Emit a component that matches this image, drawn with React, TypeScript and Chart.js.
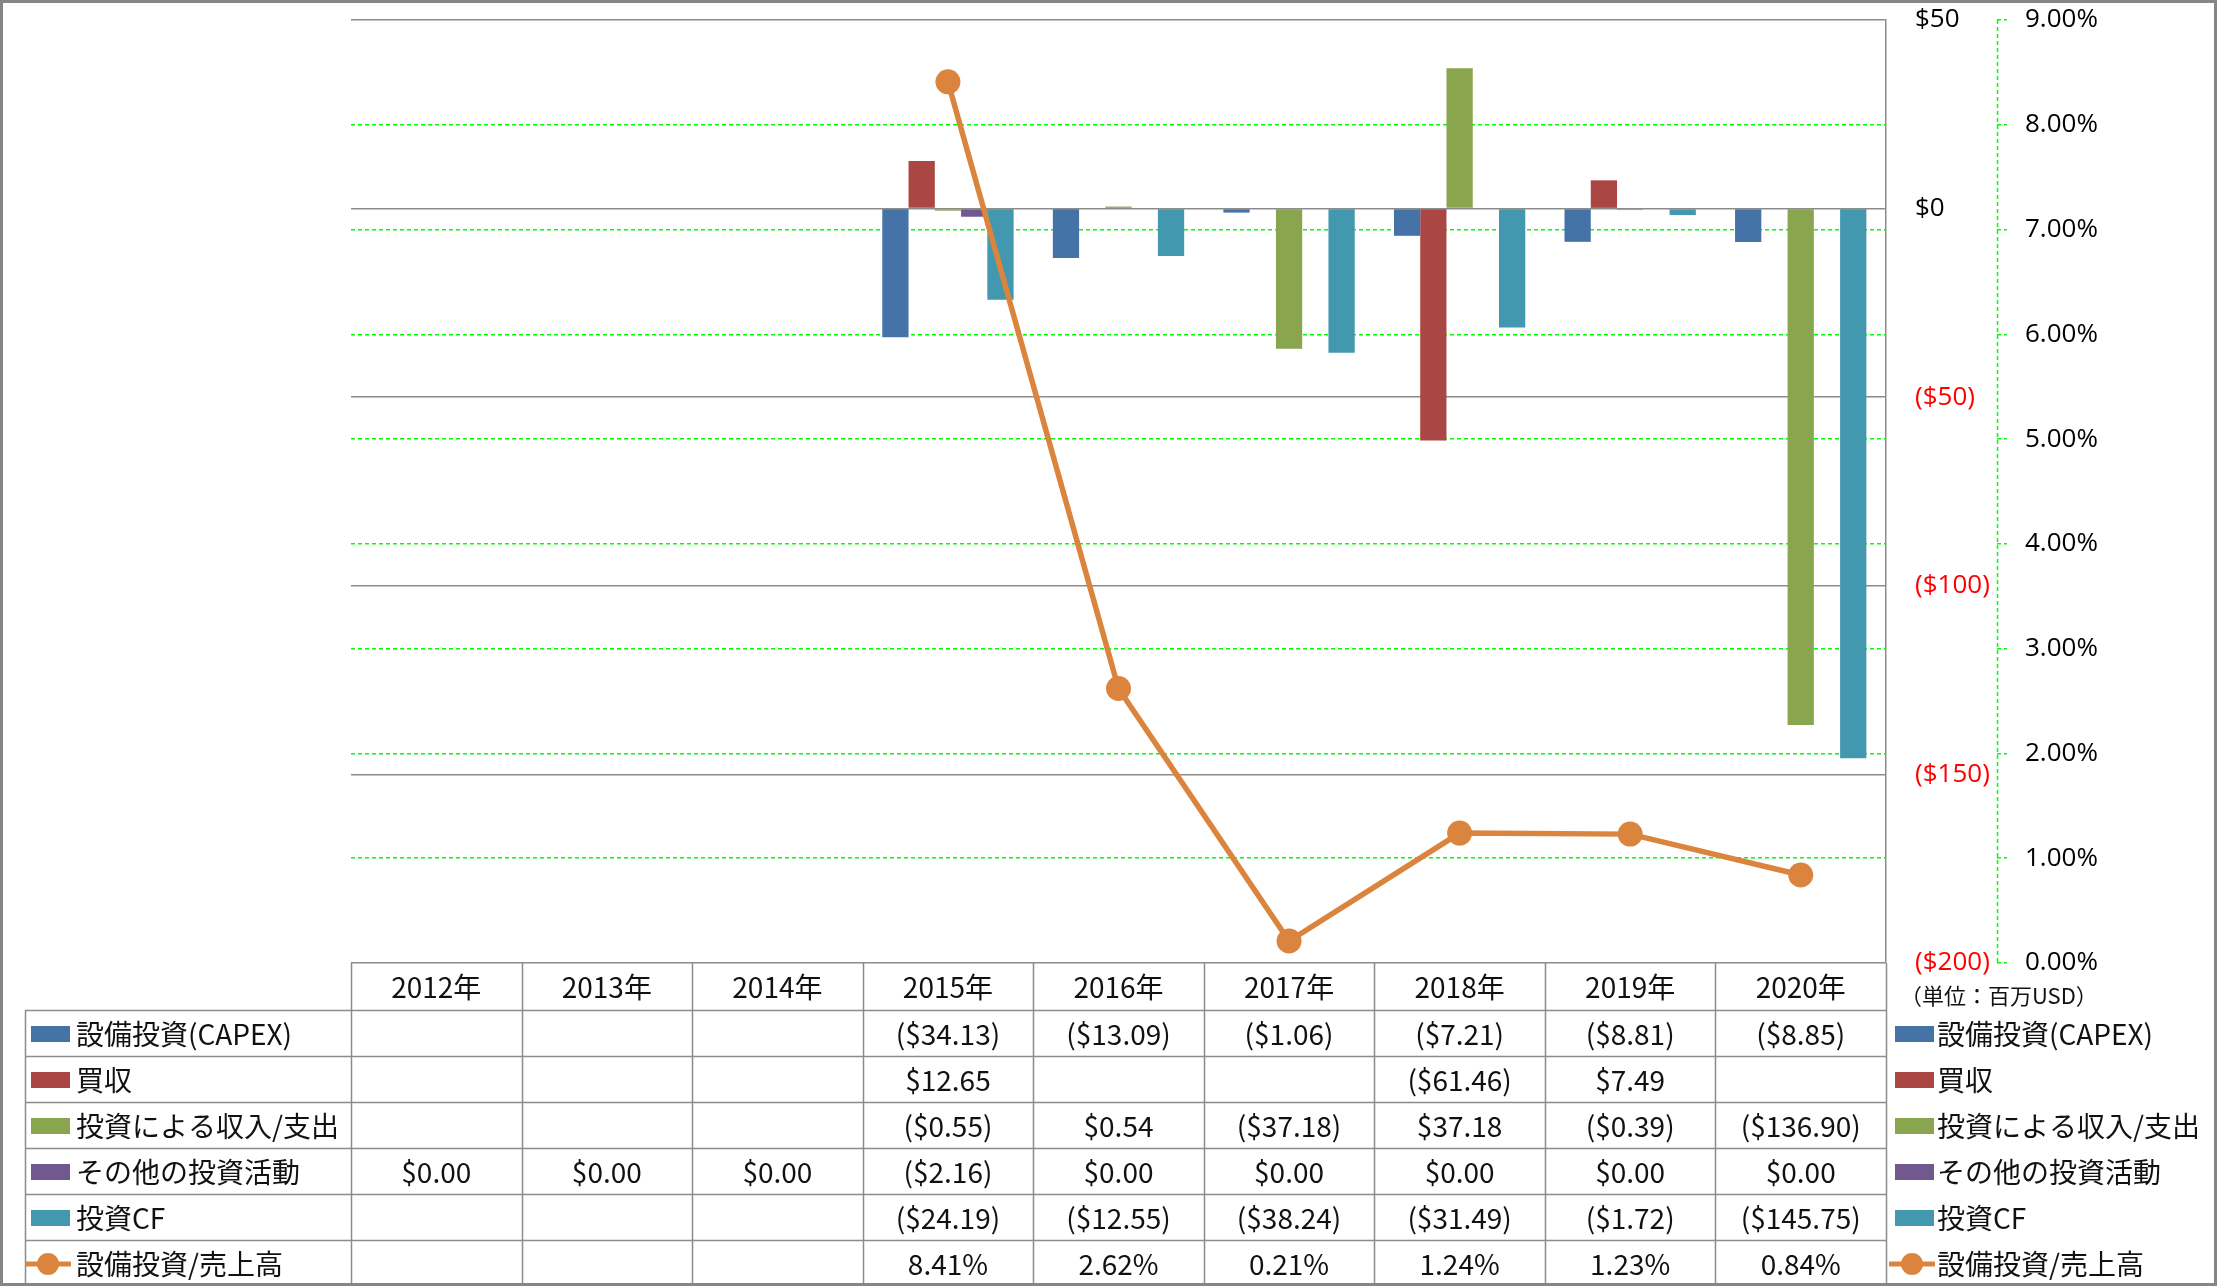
import React, { useEffect, useRef } from 'react';
import { Chart, registerables } from 'chart.js';

Chart.register(...registerables);

const years = ['2012年', '2013年', '2014年', '2015年', '2016年', '2017年', '2018年', '2019年', '2020年'];
const capex = [null, null, null, -34.13, -13.09, -1.06, -7.21, -8.81, -8.85];
const acquisitions = [null, null, null, 12.65, null, null, -61.46, 7.49, null];
const investIncome = [null, null, null, -0.55, 0.54, -37.18, 37.18, -0.39, -136.9];
const otherInvest = [0, 0, 0, -2.16, 0, 0, 0, 0, 0];
const investCF = [null, null, null, -24.19, -12.55, -38.24, -31.49, -1.72, -145.75];
const capexRatio = [null, null, null, 8.41, 2.62, 0.21, 1.24, 1.23, 0.84];

const seriesNames = ['設備投資(CAPEX)', '買収', '投資による収入/支出', 'その他の投資活動', '投資CF', '設備投資/売上高'];
const seriesColors = ['#4572A7', '#AA4643', '#89A54E', '#71588F', '#4198AF', '#DB843D'];

const dollarMin = -200;
const dollarMax = 50;
const dollarStep = 50;
const pctMin = 0;
const pctMax = 9;
const pctStep = 1;
const unitNote = '（単位：百万USD）';

const TABLE_FONT = "28px 'Noto Sans CJK JP', sans-serif";
const AXIS_FONT_FAMILY = "'Open Sans', 'Noto Sans', sans-serif";

const fmtDollar = (v: number | null) => {
  if (v === null || v === undefined) return '';
  if (v < 0) return `($${Math.abs(v).toFixed(2)})`;
  return `$${v.toFixed(2)}`;
};
const fmtPct = (v: number | null) => (v === null || v === undefined ? '' : `${v.toFixed(2)}%`);

function drawKey(ctx: CanvasRenderingContext2D, x: number, yc: number, idx: number, isLine: boolean) {
  ctx.save();
  ctx.fillStyle = seriesColors[idx];
  ctx.strokeStyle = seriesColors[idx];
  if (isLine) {
    ctx.lineWidth = 5;
    ctx.beginPath();
    ctx.moveTo(x - 6, yc);
    ctx.lineTo(x + 40, yc);
    ctx.stroke();
    ctx.beginPath();
    ctx.arc(x + 17, yc, 11, 0, Math.PI * 2);
    ctx.fill();
  } else {
    ctx.fillRect(x, yc - 8, 39, 16);
  }
  ctx.restore();
}

const tablePlugin = {
  id: 'dataTable',
  afterDraw(chart: any) {
    const ctx: CanvasRenderingContext2D = chart.ctx;
    const a = chart.chartArea;
    const xs = chart.scales.x;
    const y1 = chart.scales.y1;
    const n = years.length;
    const colW = (a.right - a.left) / n;
    const headerTop = a.bottom;
    const headerH = 47;
    const rowH = 46;
    const headerBottom = headerTop + headerH;
    const tableLeft = 25;
    const rows = seriesNames.length;
    const tableBottom = headerBottom + rowH * rows;

    ctx.save();
    // dashed secondary axis line
    ctx.strokeStyle = '#00ff00';
    ctx.lineWidth = 1.5;
    ctx.setLineDash([4, 3]);
    ctx.beginPath();
    ctx.moveTo(y1.left + 0.5, a.top);
    ctx.lineTo(y1.left + 0.5, a.bottom);
    ctx.stroke();
    ctx.setLineDash([]);

    // table grid
    ctx.strokeStyle = '#8c8c8c';
    ctx.lineWidth = 1.5;
    ctx.beginPath();
    for (let i = 0; i <= n; i++) {
      const x = Math.round(a.left + i * colW) + 0.5;
      ctx.moveTo(x, headerTop);
      ctx.lineTo(x, tableBottom);
    }
    for (let r = 0; r <= rows; r++) {
      const y = Math.round(headerBottom + r * rowH) + 0.5;
      ctx.moveTo(tableLeft, y);
      ctx.lineTo(a.right, y);
    }
    ctx.moveTo(tableLeft + 0.5, headerBottom);
    ctx.lineTo(tableLeft + 0.5, tableBottom);
    ctx.stroke();

    ctx.fillStyle = '#111';
    ctx.font = TABLE_FONT;
    ctx.textBaseline = 'middle';
    ctx.textAlign = 'center';
    years.forEach((yr, i) => {
      ctx.fillText(yr, xs.getPixelForValue(i), headerTop + headerH / 2 + 1);
    });

    const seriesData = [capex, acquisitions, investIncome, otherInvest, investCF, capexRatio];
    seriesData.forEach((data, r) => {
      const yc = headerBottom + rowH * (r + 0.5) + 1;
      const isLine = r === seriesData.length - 1;
      drawKey(ctx, tableLeft + 6, yc, r, isLine);
      ctx.fillStyle = '#111';
      ctx.textAlign = 'left';
      ctx.fillText(seriesNames[r], tableLeft + 51, yc);
      ctx.textAlign = 'center';
      data.forEach((v, i) => {
        const txt = isLine ? fmtPct(v) : fmtDollar(v);
        if (txt) ctx.fillText(txt, xs.getPixelForValue(i), yc);
      });
      // right legend
      drawKey(ctx, a.right + 9, yc, r, isLine);
      ctx.fillStyle = '#111';
      ctx.textAlign = 'left';
      ctx.fillText(seriesNames[r], a.right + 51, yc);
    });

    ctx.font = "22px 'Noto Sans CJK JP', sans-serif";
    ctx.textAlign = 'left';
    ctx.fillText(unitNote, a.right + 14, headerTop + 33);

    // outer frame
    ctx.strokeStyle = '#868686';
    ctx.lineWidth = 3;
    ctx.strokeRect(1.5, 1.5, chart.width - 3, chart.height - 3);
    ctx.restore();
  },
};

export default function App() {
  const canvasRef = useRef<HTMLCanvasElement | null>(null);

  useEffect(() => {
    document.body.style.margin = '0';
    document.body.style.overflow = 'hidden';
    const canvas = canvasRef.current;
    if (!canvas) return;
    const barDs = (idx: number, data: (number | null)[]) => ({
      type: 'bar' as const,
      label: seriesNames[idx],
      data,
      backgroundColor: seriesColors[idx],
      borderWidth: 0,
      yAxisID: 'y',
      order: 1,
      categoryPercentage: 0.77,
      barPercentage: 1.0,
    });
    const chart = new Chart(canvas, {
      type: 'bar',
      data: {
        labels: years,
        datasets: [
          barDs(0, capex),
          barDs(1, acquisitions),
          barDs(2, investIncome),
          barDs(3, otherInvest),
          barDs(4, investCF),
          {
            type: 'line' as const,
            label: seriesNames[5],
            data: capexRatio,
            borderColor: seriesColors[5],
            backgroundColor: seriesColors[5],
            borderWidth: 5.5,
            pointRadius: 12.5,
            pointBackgroundColor: seriesColors[5],
            pointBorderColor: seriesColors[5],
            pointBorderWidth: 0,
            yAxisID: 'y1',
            order: 0,
            tension: 0,
          } as any,
        ],
      },
      options: {
        responsive: false,
        animation: false,
        devicePixelRatio: 1,
        layout: { padding: { left: 351, top: 20, right: 0, bottom: 323 } },
        plugins: { legend: { display: false }, tooltip: { enabled: false } },
        scales: {
          x: { display: false, offset: true },
          y: {
            position: 'right',
            min: dollarMin,
            max: dollarMax,
            ticks: {
              stepSize: dollarStep,
              padding: 29,
              font: { family: AXIS_FONT_FAMILY, size: 26 },
              color: (c: any) => (c.tick && c.tick.value < 0 ? '#ff0000' : '#000000'),
              callback: (v: any) => (v < 0 ? `($${Math.abs(v)})` : `$${v}`),
            },
            grid: { color: '#8c8c8c', lineWidth: 1.5, drawTicks: false },
            border: { display: true, color: '#8c8c8c', width: 1.5 },
            afterFit: (s: any) => {
              s.width = 111;
              s.paddingTop = 0;
              s.paddingBottom = 0;
            },
          },
          y1: {
            position: 'right',
            min: pctMin,
            max: pctMax,
            ticks: {
              stepSize: pctStep,
              padding: 18,
              font: { family: AXIS_FONT_FAMILY, size: 26 },
              color: '#000000',
              callback: (v: any) => `${Number(v).toFixed(2)}%`,
            },
            grid: {
              color: (c: any) =>
                c.tick && (c.tick.value === pctMin || c.tick.value === pctMax) ? 'rgba(0,0,0,0)' : '#00ff00',
              tickColor: '#00ff00',
              lineWidth: 1.5,
              tickLength: 10,
              tickBorderDash: [4, 3],
            },
            border: { display: false, dash: [4, 3] },
            afterFit: (s: any) => {
              s.width = 220;
              s.paddingTop = 0;
              s.paddingBottom = 0;
            },
          },
        },
      },
      plugins: [tablePlugin],
    });
    return () => chart.destroy();
  }, []);

  return (
    <div style={{ width: 2217, height: 1286 }}>
      <canvas ref={canvasRef} width={2217} height={1286} style={{ display: 'block' }} />
    </div>
  );
}
